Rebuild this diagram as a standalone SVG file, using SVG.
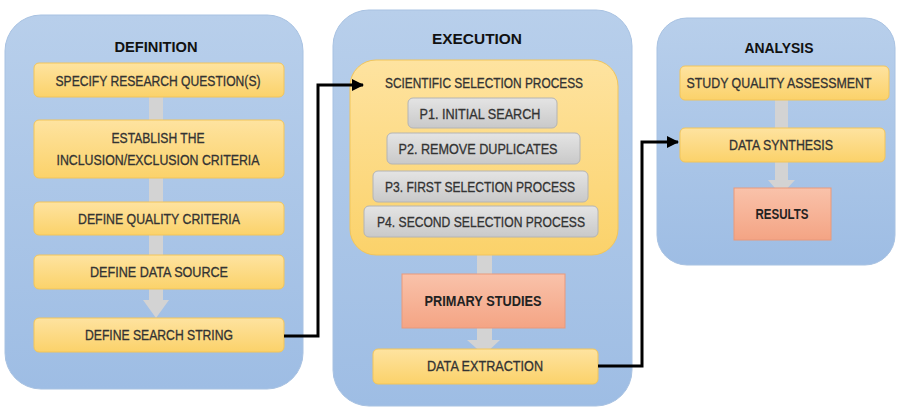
<svg xmlns="http://www.w3.org/2000/svg" width="897" height="410" viewBox="0 0 897 410">
<defs>
<linearGradient id="gBlue" x1="0" y1="0" x2="0" y2="1"><stop offset="0" stop-color="#b8cfeb"/><stop offset="1" stop-color="#9ebde4"/></linearGradient>
<linearGradient id="gYel" x1="0" y1="0" x2="0" y2="1"><stop offset="0" stop-color="#fee3a0"/><stop offset="1" stop-color="#fbd26a"/></linearGradient>
<linearGradient id="gGray" x1="0" y1="0" x2="0" y2="1"><stop offset="0" stop-color="#e4e4e4"/><stop offset="1" stop-color="#c9c9c9"/></linearGradient>
<linearGradient id="gSal" x1="0" y1="0" x2="0" y2="1"><stop offset="0" stop-color="#f9c2aa"/><stop offset="1" stop-color="#f4a484"/></linearGradient>
<marker id="ah" markerWidth="12" markerHeight="12" refX="11" refY="6" orient="auto" markerUnits="userSpaceOnUse"><path d="M0,0 L12,6 L0,12 Z" fill="#000"/></marker>
</defs>
<style>
.panel{fill:url(#gBlue);stroke:#a8c2e2;stroke-width:1}
.yb{fill:url(#gYel);stroke:#f2c55a;stroke-width:1}
.gb{fill:url(#gGray);stroke:#b4b4b4;stroke-width:1}
.sb{fill:url(#gSal);stroke:#e9997a;stroke-width:1}
.ga{fill:#d3d3d3}
text{font-family:"Liberation Sans",Arial,sans-serif;font-size:14px;fill:#333;stroke:#333;stroke-width:0.3;text-anchor:middle;dominant-baseline:central}
.t{font-weight:bold;fill:#111;stroke:none;font-size:14.5px}
.b{font-weight:bold;fill:#222;stroke:none}
.con{fill:none;stroke:#000;stroke-width:3}
</style>

<g id="definition">
<rect class="panel" x="5" y="15" width="298" height="374" rx="36"/>
<text class="t" x="156" y="47" textLength="83" lengthAdjust="spacingAndGlyphs">DEFINITION</text>
<path class="ga" d="M149,97 H163 V300 H169 L156,318 L143,300 H149 Z"/>
</g>
<g id="specify">
<rect class="yb" x="34" y="63" width="250" height="34" rx="5"/>
<text x="158" y="81" textLength="205" lengthAdjust="spacingAndGlyphs">SPECIFY RESEARCH QUESTION(S)</text>
</g>
<g id="establish">
<rect class="yb" x="34" y="120" width="250" height="58" rx="5"/>
<text x="158" y="138" textLength="93" lengthAdjust="spacingAndGlyphs">ESTABLISH THE</text>
<text x="158" y="160" textLength="203" lengthAdjust="spacingAndGlyphs">INCLUSION/EXCLUSION CRITERIA</text>
</g>
<g id="quality">
<rect class="yb" x="34" y="202" width="250" height="33" rx="5"/>
<text x="159" y="219" textLength="162" lengthAdjust="spacingAndGlyphs">DEFINE QUALITY CRITERIA</text>
</g>
<g id="datasource">
<rect class="yb" x="34" y="255" width="250" height="34" rx="5"/>
<text x="159" y="272" textLength="138" lengthAdjust="spacingAndGlyphs">DEFINE DATA SOURCE</text>
</g>
<g id="searchstring">
<rect class="yb" x="34" y="318" width="250" height="34" rx="5"/>
<text x="159" y="335" textLength="148" lengthAdjust="spacingAndGlyphs">DEFINE SEARCH STRING</text>
</g>

<g id="execution">
<rect class="panel" x="333" y="10" width="299" height="396" rx="36"/>
<text class="t" x="477" y="39" textLength="90" lengthAdjust="spacingAndGlyphs">EXECUTION</text>
<path class="ga" d="M477,250 H492 V340 H500 L484,355 L467,340 H477 Z"/>
</g>
<g id="selection">
<rect class="yb" x="350" y="60" width="268" height="195" rx="26"/>
<text x="484" y="83" textLength="198" lengthAdjust="spacingAndGlyphs">SCIENTIFIC SELECTION PROCESS</text>
</g>
<g id="p1">
<rect class="gb" x="408" y="98" width="149" height="30" rx="5"/>
<text x="480" y="114" textLength="121" lengthAdjust="spacingAndGlyphs">P1. INITIAL SEARCH</text>
</g>
<g id="p2">
<rect class="gb" x="387" y="133" width="193" height="31" rx="5"/>
<text x="478" y="149" textLength="159" lengthAdjust="spacingAndGlyphs">P2. REMOVE DUPLICATES</text>
</g>
<g id="p3">
<rect class="gb" x="373" y="171" width="215" height="31" rx="5"/>
<text x="480" y="187" textLength="190" lengthAdjust="spacingAndGlyphs">P3. FIRST SELECTION PROCESS</text>
</g>
<g id="p4">
<rect class="gb" x="364" y="206" width="234" height="31" rx="5"/>
<text x="481" y="222" textLength="208" lengthAdjust="spacingAndGlyphs">P4. SECOND SELECTION PROCESS</text>
</g>
<g id="primary">
<rect class="sb" x="402" y="274" width="163" height="54"/>
<text class="b" x="483" y="301" textLength="117" lengthAdjust="spacingAndGlyphs">PRIMARY STUDIES</text>
</g>
<g id="extraction">
<rect class="yb" x="373" y="349" width="225" height="35" rx="5"/>
<text x="485" y="366" textLength="116" lengthAdjust="spacingAndGlyphs">DATA EXTRACTION</text>
</g>

<g id="analysis">
<rect class="panel" x="657" y="18" width="238" height="247" rx="30"/>
<text class="t" x="779" y="48" textLength="69" lengthAdjust="spacingAndGlyphs">ANALYSIS</text>
<path class="ga" d="M775,100 H788 V180 H795 L781,195 L768,180 H775 Z"/>
</g>
<g id="sqa">
<rect class="yb" x="680" y="66" width="209" height="34" rx="5"/>
<text x="779" y="83" textLength="185" lengthAdjust="spacingAndGlyphs">STUDY QUALITY ASSESSMENT</text>
</g>
<g id="synthesis">
<rect class="yb" x="680" y="128" width="205" height="34" rx="5"/>
<text x="781" y="145" textLength="104" lengthAdjust="spacingAndGlyphs">DATA SYNTHESIS</text>
</g>
<g id="results">
<rect class="sb" x="734" y="188" width="97" height="52"/>
<text class="b" x="782" y="214" textLength="53" lengthAdjust="spacingAndGlyphs">RESULTS</text>
</g>

<g id="connectors">
<path class="con" d="M284,336 H318 V85 H363" marker-end="url(#ah)"/>
<path class="con" d="M598,366 H642 V142 H678" marker-end="url(#ah)"/>
</g>
</svg>
